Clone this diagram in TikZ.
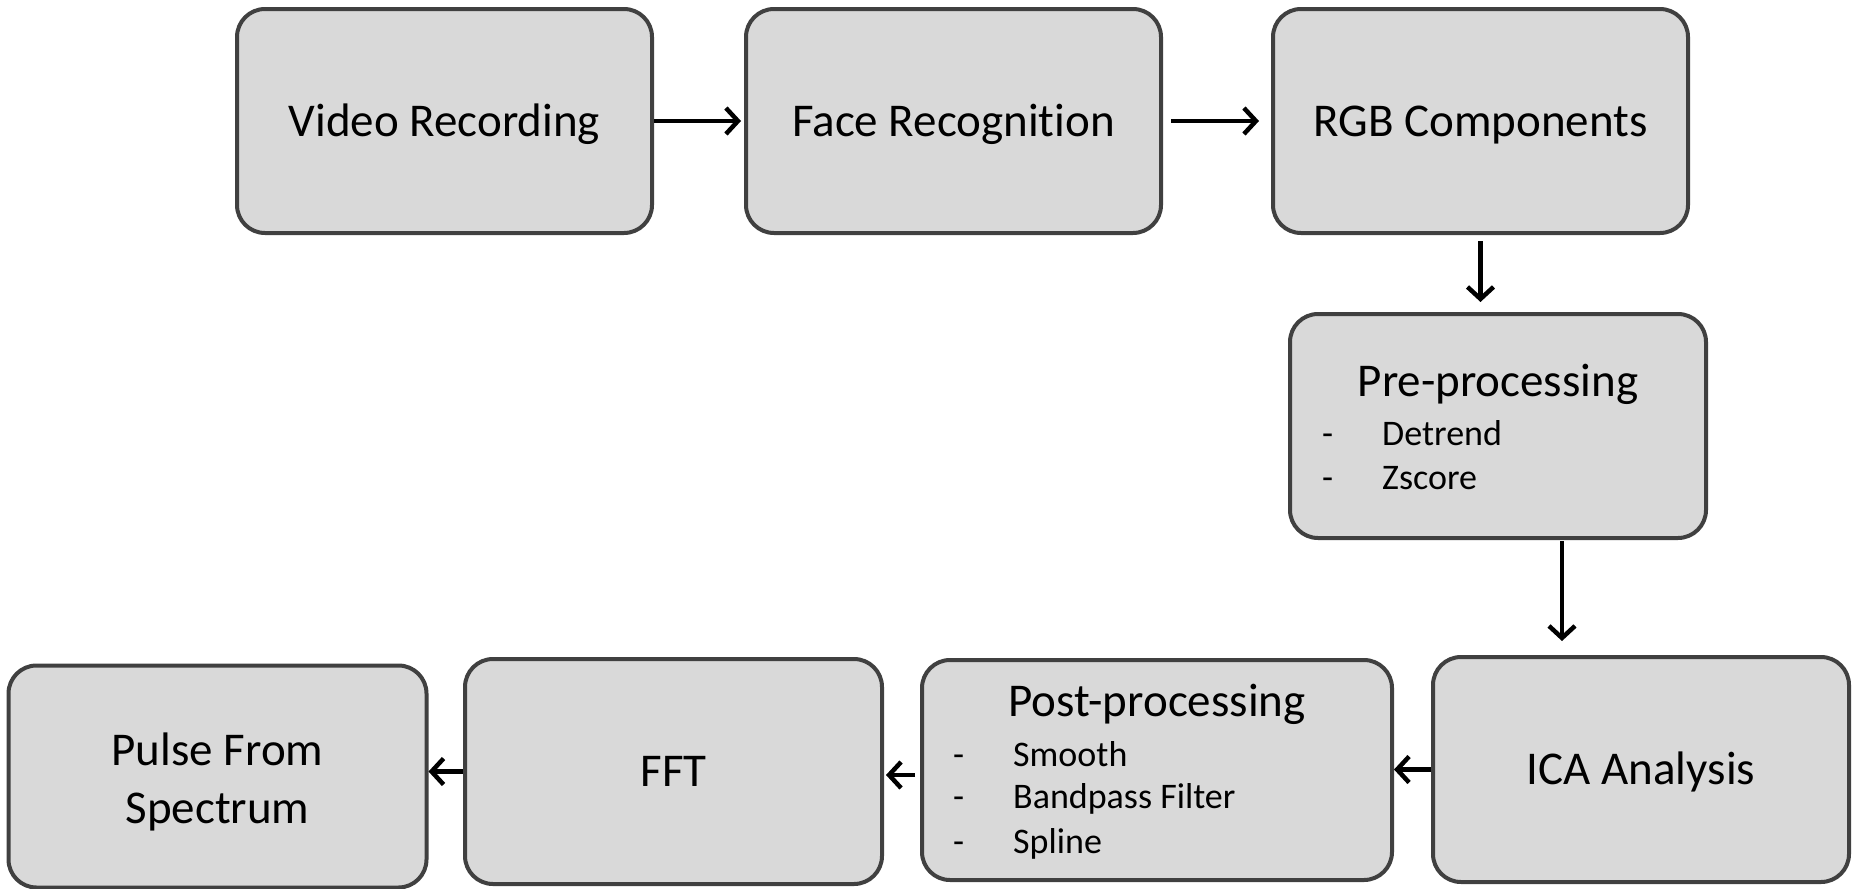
\documentclass[tikz,border=0pt]{standalone}
\usepackage{fontspec}
\setmainfont[Ligatures=NoCommon]{Carlito}
\usetikzlibrary{arrows.meta}
\definecolor{boxfill}{HTML}{D9D9D9}
\definecolor{boxline}{HTML}{404040}
\tikzset{
  procbox/.style={draw=boxline, fill=boxfill, line width=4pt, rounded corners=28pt,
    align=center, inner sep=0pt, text height=30pt, text depth=0pt,
    font=\fontsize{47}{58}\selectfont},
  title/.style={anchor=base, inner sep=0pt, font=\fontsize{47}{58}\selectfont},
  item/.style={anchor=base west, inner sep=0pt, font=\fontsize{36}{44}\selectfont},
  arr/.style={line width=4.5pt, -{Straight Barb[length=12pt,width=26pt]}},
}
\begin{document}
\begin{tikzpicture}[x=1pt,y=-1pt]
\useasboundingbox (0,0) rectangle (1856,889);
% boxes
\node[procbox, minimum width=415pt, minimum height=224pt] (vid) at (444.5,121) {Video Recording};
\node[procbox, minimum width=415pt, minimum height=224pt] (face) at (953.5,121) {Face Recognition};
\node[procbox, minimum width=415pt, minimum height=224pt] (rgb) at (1480.5,121) {RGB Components};
\node[procbox, minimum width=416pt, minimum height=224pt] (pre) at (1498,426) {};
\node[procbox, minimum width=416pt, minimum height=225pt] (ica) at (1641,769.5) {ICA Analysis};
\node[procbox, minimum width=470pt, minimum height=220pt] (post) at (1157,770) {};
\node[procbox, minimum width=417pt, minimum height=225pt] (fft) at (673.5,771.5) {FFT};
\node[procbox, minimum width=418pt, minimum height=222pt] (pulse) at (217.5,776.5) {};
% pulse text
\node[title] (pulset1) at (217.5,765) {Pulse From};
\node[title] (pulset2) at (217.5,823) {Spectrum};
% pre-processing text
\node[title] (pretitle) at (1498,396) {Pre-processing};
\node[item] (pred1) at (1322,445) {-};
\node[item] (pret1) at (1382,445) {Detrend};
\node[item] (pred2) at (1322,489) {-};
\node[item] (pret2) at (1382,489) {Zscore};
% post-processing text
\node[title] (posttitle) at (1157,716) {Post-processing};
\node[item] (postd1) at (953,766) {-};
\node[item] (postt1) at (1013,766) {Smooth};
\node[item] (postd2) at (953,808) {-};
\node[item] (postt2) at (1013,808) {Bandpass Filter};
\node[item] (postd3) at (953,853) {-};
\node[item] (postt3) at (1013,853) {Spline};
% connectors
\draw[arr, shorten >=3pt] (vid.east) -- (face.west);
\draw[arr, shorten <=8pt, shorten >=12pt] (face.east) -- (rgb.west);
\draw[arr, shorten <=6pt, shorten >=10pt] (rgb.south) -- (rgb.south |- pre.north);
\draw[arr, shorten <=1pt, shorten >=14pt] ([xshift=64pt]pre.south) -- ([xshift=64pt]pre.south |- ica.north);
\draw[arr] (ica.west) -- (ica.west -| post.east);
\draw[arr, shorten <=5pt, shorten >=2pt] ([yshift=-5pt]post.west) -- ([yshift=-5pt]post.west -| fft.east);
\draw[arr] (fft.west) -- (fft.west -| pulse.east);
\end{tikzpicture}
\end{document}
